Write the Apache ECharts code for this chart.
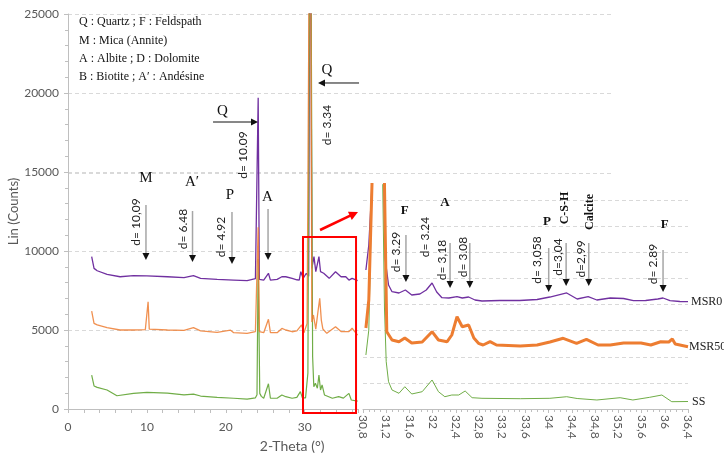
<!DOCTYPE html>
<html><head><meta charset="utf-8">
<script src="https://cdn.jsdelivr.net/npm/echarts/dist/echarts.min.js"></script>
<style>html,body{margin:0;padding:0;background:#fff}#c{width:724px;height:460px}</style>
</head><body><div id="c"></div>
<script>
// ---------- main pattern (2-Theta, counts) ----------
const mainMSR0 = [[3.0,9640],[3.3,8900],[3.7,8750],[4.95,8520],[6.6,8370],[8.3,8440],[10.0,8430],[12.6,8370],[14.7,8310],[15.9,8440],[16.8,8270],[18.9,8200],[21.0,8160],[22.7,8120],[23.75,8250],[23.95,8150],[24.1,19700],[24.25,8200],[24.4,8120],[24.8,8160],[25.4,8590],[25.65,8160],[26.5,8200],[27.1,8370],[27.6,8370],[27.8,8300],[28.4,8270],[29.0,8180],[29.3,8160],[29.5,8690],[29.8,8270],[30.2,8590],[30.5,8400],[30.7,40000],[30.9,8900],[31.17,9640],[31.4,8690],[31.8,9640],[32.0,8690],[32.4,8590],[33.1,8270],[33.9,8690],[34.6,8370],[35.2,8370],[35.6,8160],[36.0,8270],[36.7,8120]];
const mainMSR50 = [[3.0,6200],[3.3,5420],[3.7,5320],[4.95,5150],[6.6,5000],[8.3,5000],[9.8,5030],[10.0,5100],[10.15,6790],[10.3,5050],[10.45,5040],[12.6,5000],[14.7,4970],[15.9,5150],[16.8,4940],[18.9,4850],[20.6,4990],[21.0,4830],[22.7,4780],[23.75,4900],[23.95,4800],[24.1,11500],[24.25,4900],[24.4,4830],[24.8,4830],[25.4,5680],[25.65,4830],[26.5,4830],[27.1,5100],[27.6,5000],[28.4,4890],[29.0,4950],[29.6,5320],[29.9,4830],[30.3,5420],[30.55,5300],[30.7,40000],[30.9,5500],[31.1,5950],[31.4,5060],[31.65,6060],[31.9,7000],[32.1,5630],[32.3,5060],[32.8,4790],[33.9,5210],[34.6,4900],[35.6,4900],[36.0,5110],[36.7,4680]];
const mainSS = [[3.0,2150],[3.3,1460],[3.7,1370],[4.95,1200],[6.2,840],[8.3,990],[10.0,1050],[12.6,1000],[14.7,890],[15.9,940],[16.8,820],[18.9,740],[21.0,680],[22.7,630],[23.75,710],[23.95,900],[24.1,9500],[24.3,990],[24.5,800],[24.8,680],[25.4,1600],[25.65,680],[26.5,680],[27.1,890],[27.6,780],[28.4,680],[29.0,740],[29.45,1100],[29.7,700],[30.1,700],[30.4,2270],[30.7,40000],[31.0,3310],[31.15,1410],[31.35,1630],[31.6,1310],[31.8,2150],[32.0,1200],[32.2,1520],[32.5,890],[33.5,680],[34.3,780],[34.9,690],[35.6,990],[35.9,570],[36.7,500]];
const mainYTicks = [0, 5000, 10000, 15000, 20000, 25000];

// ---------- zoomed pattern (30.8 - 36.4, arbitrary units) ----------
const zoomMSR0 = [[30.85,5325],[30.9,6283],[30.955,8580],[31.06,30000],[31.16,8600],[31.18,5785],[31.24,4750],[31.3,4494],[31.42,4444],[31.53,4559],[31.64,4367],[31.78,4406],[31.89,4559],[31.99,4827],[32.07,4482],[32.16,4264],[32.28,4252],[32.42,4302],[32.51,4252],[32.62,4290],[32.73,4176],[32.85,4137],[33.16,4157],[33.5,4157],[33.8,4195],[34.02,4290],[34.31,4444],[34.49,4214],[34.68,4302],[34.83,4176],[35.06,4252],[35.29,4233],[35.46,4149],[35.67,4157],[35.88,4214],[35.97,4252],[36.09,4149],[36.26,4118],[36.4,4110]];
const zoomMSR50 = [[30.85,3103],[30.9,4176],[30.955,8620],[31.06,30000],[31.17,8600],[31.21,2961],[31.3,2643],[31.42,2578],[31.52,2720],[31.64,2528],[31.82,2567],[31.99,2961],[32.1,2643],[32.25,2578],[32.33,2835],[32.42,3536],[32.51,3153],[32.62,3218],[32.71,2720],[32.79,2517],[32.87,2452],[32.99,2578],[33.1,2452],[33.51,2414],[33.8,2452],[34.02,2567],[34.25,2709],[34.48,2517],[34.65,2670],[34.85,2452],[35.06,2452],[35.29,2528],[35.59,2528],[35.76,2452],[35.93,2578],[36.07,2567],[36.13,2682],[36.18,2490],[36.4,2387]];
const zoomSS = [[30.85,2069],[30.9,3026],[30.955,8600],[31.06,30000],[31.14,8600],[31.17,3869],[31.2,1812],[31.24,1046],[31.3,728],[31.42,601],[31.52,854],[31.64,575],[31.82,663],[31.99,1111],[32.1,663],[32.21,471],[32.33,536],[32.45,536],[32.56,690],[32.68,433],[32.85,410],[33.51,395],[34.02,410],[34.31,471],[34.49,402],[34.83,345],[35.23,433],[35.45,345],[35.74,448],[35.95,536],[36.12,280],[36.4,287]];

// ---------- annotations (data coordinates) ----------
const keyLines = ['Q : Quartz ; F : Feldspath','M : Mica (Annite)','A : Albite ; D : Dolomite','B : Biotite ; A\u2032 : Andésine'];
const keyY = [24493, 23291, 22152, 21012];
const mainLetters = [['M',9.88,14620],['A\u2032',15.71,14367],['P',20.53,13544],['A',25.28,13417],['Q',19.58,18860],['Q',32.82,21455]];
const mainDText = [['d= 10,09',8.62,11835],['d= 6.48',14.57,11390],['d= 4.92',19.39,10886],['d= 10.09',22.18,16076],['d= 3.34',32.82,17974]];
const mainArrows = [[9.88,12910,9.88,9430,'g'],[15.78,12530,15.78,9300,'g'],[20.78,12470,20.78,9180,'g'],[25.35,12660,25.35,9430,'g'],[18.38,18164,24.08,18164,'k'],[36.88,20633,31.68,20633,'k']];
const zoomLetters = [['F',31.52,7586],['A',32.21,7892],['P',33.97,7164],['F',36.0,7049]];
const zoomRotLetters = [['C-S-H',34.28,7700],['Calcite',34.71,7547]];
const zoomDText = [['d= 3.29',31.37,6015],['d= 3.24',31.87,6589],['d= 3,18',32.16,5708],['d= 3.08',32.52,5823],['d= 3,058',33.8,5708],['d=3,04',34.16,5823],['d=2,99',34.56,5747],['d= 2.89',35.8,5555]];
const zoomArrows = [[31.54,6666,31.54,4865],[32.3,6359,32.3,4636],[32.64,6359,32.64,4636],[34.0,6168,34.0,4482],[34.3,6359,34.3,4712],[34.69,6359,34.69,4712],[35.97,6091,35.97,4482]];
const zoomBox = [29.78, 10886, 36.5, -253];
const zoomPointer = [31.94, 11329, 36.75, 12468];

const SANS = 'Lato, "Liberation Sans", sans-serif';
const SERIF = '"Liberation Serif", "DejaVu Serif", serif';
const GRIDC = '#D9D9D9', AXC = '#BFBFBF', LABC = '#595959';
const PURPLE = '#7030A0', ORANGE = '#ED7D31', GREEN = '#70AD47';

const chart = echarts.init(document.getElementById('c'), null, {renderer: 'canvas'});
const dashed = {show: true, lineStyle: {color: GRIDC, type: [4, 3], width: 1}};

const option = {
  animation: false,
  backgroundColor: '#fff',
  grid: [
    {left: 68, right: 365.6, top: 14, bottom: 51},
    {left: 68, right: 111, top: 14, bottom: 287},
    {left: 363, right: 36, top: 184.5, bottom: 51}
  ],
  xAxis: [
    {gridIndex: 0, type: 'value', min: 0, max: 36.8, interval: 2,
     axisLine: {lineStyle: {color: AXC}}, axisTick: {length: 4, lineStyle: {color: AXC}},
     axisLabel: {color: LABC, fontFamily: SANS, fontSize: 12, margin: 12,
       formatter: v => (Math.abs(v % 10) < 1e-9 ? String(v) : '')},
     splitLine: {show: false}},
    {gridIndex: 1, type: 'value', min: 0, max: 1, show: false},
    {gridIndex: 2, type: 'value', min: 30.8, max: 36.4, interval: 0.4,
     axisLine: {lineStyle: {color: AXC}}, axisTick: {length: 4, lineStyle: {color: AXC}},
     minorTick: {show: true, splitNumber: 4, length: 3, lineStyle: {color: AXC}},
     axisLabel: {color: LABC, fontFamily: SANS, fontSize: 12, rotate: -90, margin: 6,
       formatter: v => (Math.round(v * 10) / 10).toString().replace('.', ',')},
     splitLine: {show: false}}
  ],
  yAxis: [
    {gridIndex: 0, type: 'value', min: 0, max: 25000, interval: 5000,
     name: 'Lin (Counts)', nameLocation: 'middle', nameGap: 40,
     nameTextStyle: {color: LABC, fontFamily: SANS, fontSize: 13},
     axisLine: {show: true, lineStyle: {color: AXC}}, axisTick: {show: true, length: 4, lineStyle: {color: AXC}},
     minorTick: {show: true, splitNumber: 5, length: 3, lineStyle: {color: AXC}},
     axisLabel: {color: LABC, fontFamily: SANS, fontSize: 12, margin: 9, formatter: v => String(v)},
     splitLine: Object.assign({showMinLine: false}, dashed)},
    {gridIndex: 1, type: 'value', min: 15000, max: 25000, interval: 5000,
     axisLine: {show: false}, axisTick: {show: false}, axisLabel: {show: false},
     splitLine: dashed},
    {gridIndex: 2, type: 'value', min: 0, max: 8600, interval: 1000,
     axisLine: {show: false}, axisTick: {show: false}, axisLabel: {show: false},
     splitLine: Object.assign({showMinLine: false, showMaxLine: false}, dashed)}
  ],
  series: [
    {name: 'MSR0', type: 'line', xAxisIndex: 0, yAxisIndex: 0, data: mainMSR0, showSymbol: false, symbol: 'none', lineStyle: {color: PURPLE, width: 1.3}, itemStyle: {color: PURPLE}, z: 2},
    {name: 'SS', type: 'line', xAxisIndex: 0, yAxisIndex: 0, data: mainSS, showSymbol: false, symbol: 'none', lineStyle: {color: GREEN, width: 1.2}, itemStyle: {color: GREEN}, z: 3},
    {name: 'MSR50', type: 'line', xAxisIndex: 0, yAxisIndex: 0, data: mainMSR50, showSymbol: false, symbol: 'none', lineStyle: {color: ORANGE, width: 1.3, opacity: 0.85}, itemStyle: {color: ORANGE}, z: 4},
    {name: 'MSR0', type: 'line', xAxisIndex: 2, yAxisIndex: 2, data: zoomMSR0, showSymbol: false, symbol: 'none', lineStyle: {color: PURPLE, width: 1.3}, itemStyle: {color: PURPLE}, z: 2,
     endLabel: {show: true, formatter: '{a}', distance: 3, color: '#222', fontFamily: SERIF, fontSize: 12}},
    {name: 'SS', type: 'line', xAxisIndex: 2, yAxisIndex: 2, data: zoomSS, showSymbol: false, symbol: 'none', lineStyle: {color: GREEN, width: 1}, itemStyle: {color: GREEN}, z: 3,
     endLabel: {show: true, formatter: '{a}', distance: 4, color: '#222', fontFamily: SERIF, fontSize: 12}},
    {name: 'MSR50', type: 'line', xAxisIndex: 2, yAxisIndex: 2, data: zoomMSR50, showSymbol: false, symbol: 'none', lineStyle: {color: ORANGE, width: 3}, itemStyle: {color: ORANGE}, z: 4,
     endLabel: {show: true, formatter: '{a}', distance: 1, color: '#222', fontFamily: SERIF, fontSize: 12}}
  ]
};
chart.setOption(option);

function pm(x, y) { return chart.convertToPixel({xAxisIndex: 0, yAxisIndex: 0}, [x, y]); }
function pz(x, y) { return chart.convertToPixel({xAxisIndex: 2, yAxisIndex: 2}, [x, y]); }

const G = [];
function text(p, t, font, color, opts) {
  G.push(Object.assign({type: 'text', x: p[0], y: p[1], z: 100,
    style: {text: t, font: font, fill: color, align: 'center', verticalAlign: 'middle'}}, opts || {}));
}
function arrow(p1, p2, shaft, head, lw, hl, hw) {
  const dx = p2[0] - p1[0], dy = p2[1] - p1[1], L = Math.hypot(dx, dy), ux = dx / L, uy = dy / L;
  const bx = p2[0] - ux * hl, by = p2[1] - uy * hl;
  G.push({type: 'line', z: 100, shape: {x1: p1[0], y1: p1[1], x2: bx + ux * 1, y2: by + uy * 1}, style: {stroke: shaft, lineWidth: lw}});
  G.push({type: 'polygon', z: 101, shape: {points: [[p2[0], p2[1]], [bx - uy * hw, by + ux * hw], [bx + uy * hw, by - ux * hw]]}, style: {fill: head}});
}

// key
keyLines.forEach((t, i) => {
  const p = pm(1.39, keyY[i]);
  text(p, t, '12px ' + SERIF, '#111', {style: {text: t, font: '12px ' + SERIF, fill: '#111', align: 'left', verticalAlign: 'middle'}});
});
mainLetters.forEach(a => text(pm(a[1], a[2]), a[0], '15px ' + SERIF, '#111'));
mainDText.forEach(a => text(pm(a[1], a[2]), a[0], '12px ' + SANS, '#222', {rotation: Math.PI / 2}));
mainArrows.forEach(a => arrow(pm(a[0], a[1]), pm(a[2], a[3]), a[4] === 'g' ? '#A6A6A6' : '#111', '#111', a[4] === 'g' ? 1.5 : 1, 7, 3.5));

zoomLetters.forEach(a => text(pz(a[1], a[2]), a[0], 'bold 13px ' + SERIF, '#111'));
zoomRotLetters.forEach(a => text(pz(a[1], a[2]), a[0], 'bold 12px ' + SERIF, '#111', {rotation: Math.PI / 2}));
zoomDText.forEach(a => text(pz(a[1], a[2]), a[0], '12px ' + SANS, '#222', {rotation: Math.PI / 2}));
zoomArrows.forEach(a => arrow(pz(a[0], a[1]), pz(a[2], a[3]), '#A6A6A6', '#111', 1.5, 7, 3.5));

// red frame and pointer
const b1 = pm(zoomBox[0], zoomBox[1]), b2 = pm(zoomBox[2], zoomBox[3]);
G.push({type: 'rect', z: 102, shape: {x: b1[0], y: b1[1], width: b2[0] - b1[0], height: b2[1] - b1[1]}, style: {fill: 'none', stroke: '#FF0000', lineWidth: 2}});
arrow(pm(zoomPointer[0], zoomPointer[1]), pm(zoomPointer[2], zoomPointer[3]), '#FF0000', '#FF0000', 2.5, 9, 4.5);

// x axis title
const tp = pm(28.4, -2400);
text(tp, '2-Theta (°)', '14px ' + SANS, LABC);

chart.setOption({graphic: G});
</script></body></html>
